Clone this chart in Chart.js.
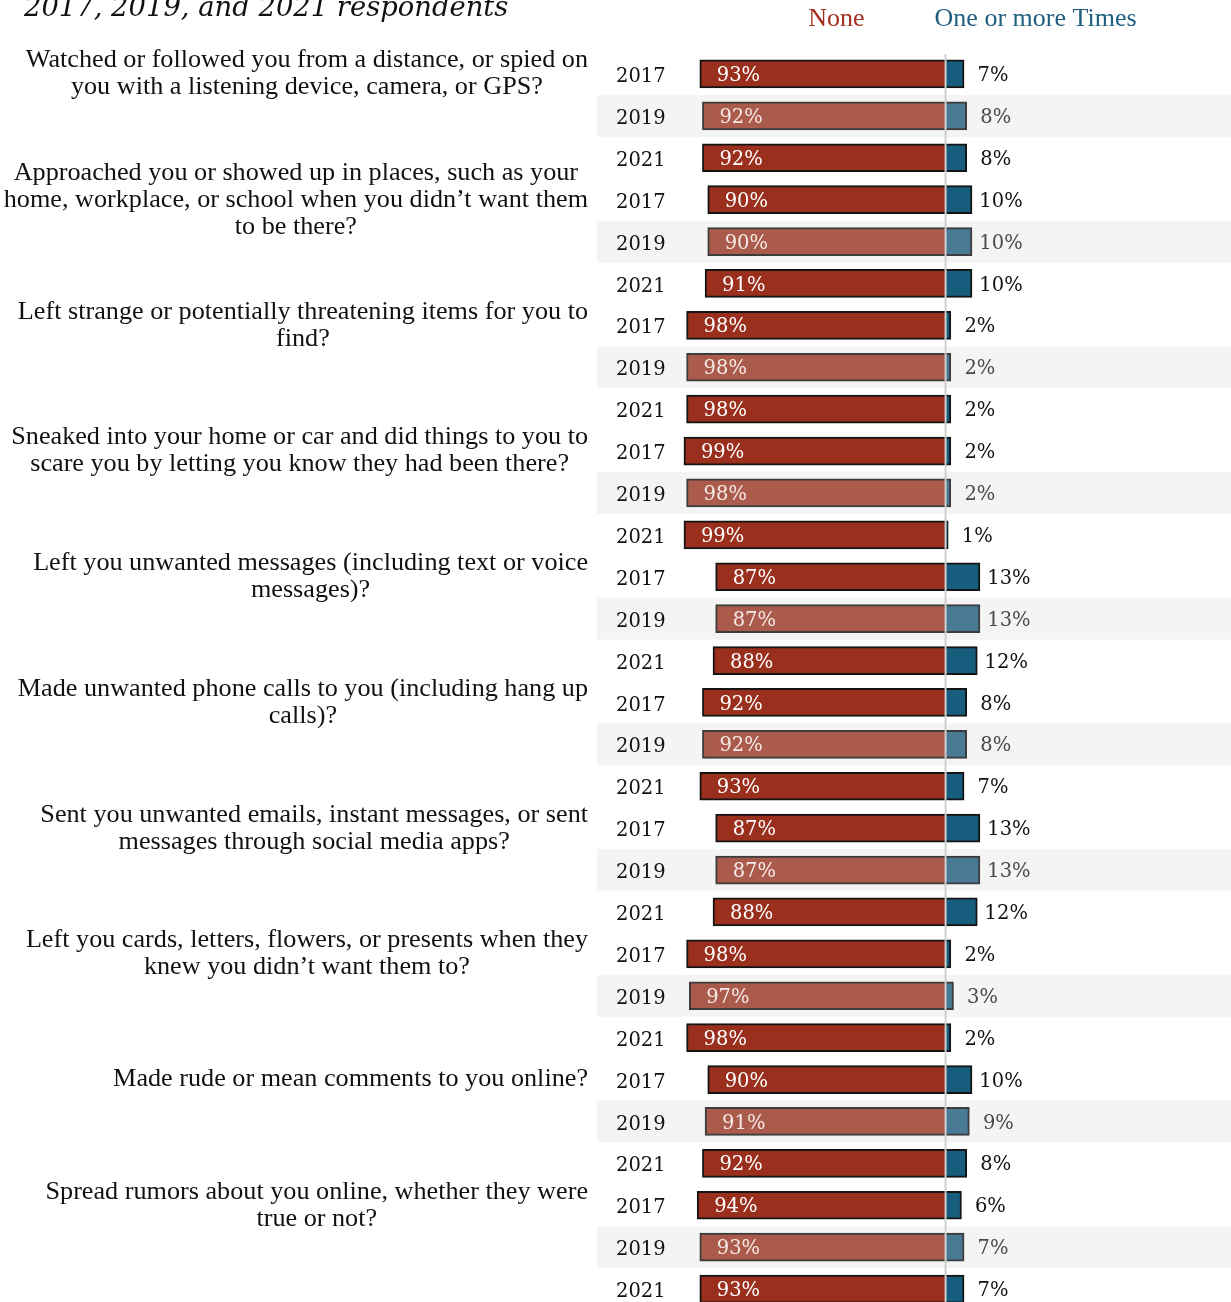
<!DOCTYPE html>
<html>
<head>
<meta charset="utf-8">
<script src="https://cdn.jsdelivr.net/npm/chart.js@4.4.1/dist/chart.umd.min.js"></script>
<style>
  html, body { margin: 0; padding: 0; background: #fff; overflow: hidden; }
  canvas { display: block; }
</style>
</head>
<body>
<canvas id="c" width="1231" height="1330"></canvas>
<script>
// Survey items, one block of three survey years per item
const questions = [
  ["Watched or followed you from a distance, or spied on", "you with a listening device, camera, or GPS?"],
  ["Approached you or showed up in places, such as your", "home, workplace, or school when you didn\u2019t want them", "to be there?"],
  ["Left strange or potentially threatening items for you to", "find?"],
  ["Sneaked into your home or car and did things to you to", "scare you by letting you know they had been there?"],
  ["Left you unwanted messages (including text or voice", "messages)?"],
  ["Made unwanted phone calls to you (including hang up", "calls)?"],
  ["Sent you unwanted emails, instant messages, or sent", "messages through social media apps?"],
  ["Left you cards, letters, flowers, or presents when they", "knew you didn\u2019t want them to?"],
  ["Made rude or mean comments to you online?"],
  ["Spread rumors about you online, whether they were", "true or not?"]
];

const years = [
  "2017","2019","2021", "2017","2019","2021", "2017","2019","2021", "2017","2019","2021", "2017","2019","2021",
  "2017","2019","2021", "2017","2019","2021", "2017","2019","2021", "2017","2019","2021", "2017","2019","2021"
];

// Percent answering "None"
const noneValues = [
  93, 92, 92,
  90, 90, 91,
  98, 98, 98,
  99, 98, 99,
  87, 87, 88,
  92, 92, 93,
  87, 87, 88,
  98, 97, 98,
  90, 91, 92,
  94, 93, 93
];

// Percent answering "One or more Times"
const onceValues = [
  7, 8, 8,
  10, 10, 10,
  2, 2, 2,
  2, 2, 1,
  13, 13, 12,
  8, 8, 7,
  13, 13, 12,
  2, 3, 2,
  10, 9, 8,
  6, 7, 7
];

const seriesNames = ["None", "One or more Times"];
const subtitle = "2017, 2019, and 2021 respondents";

const isMid = yr => yr === "2019";

const NUM_FONT = '19.5px "DejaVu Serif"';
const TEXT_FONT = '26.2px "Liberation Serif"';

const decorations = {
  id: 'decorations',
  beforeDraw(chart) {
    const { ctx, chartArea, scales: { x, y } } = chart;
    const half = (y.getPixelForValue(1) - y.getPixelForValue(0)) / 2;
    ctx.save();

    // shaded bands behind the middle survey year
    ctx.fillStyle = '#f4f4f4';
    const bandLeft = y.left - 19;
    years.forEach((yr, i) => {
      if (!isMid(yr)) return;
      const cy = y.getPixelForValue(i);
      ctx.fillRect(bandLeft, cy - half, chartArea.right - bandLeft, half * 2);
    });

    // subtitle
    ctx.fillStyle = '#111';
    ctx.font = 'italic 27.4px "DejaVu Serif"';
    ctx.textAlign = 'left';
    ctx.textBaseline = 'alphabetic';
    ctx.fillText(subtitle, 24, 16);

    // series legend
    const zx = x.getPixelForValue(0);
    ctx.font = '26px "Liberation Serif"';
    ctx.textBaseline = 'middle';
    ctx.fillStyle = '#a3301f';
    ctx.textAlign = 'right';
    ctx.fillText(seriesNames[0], zx - 81, 19);
    ctx.fillStyle = '#1d5e7f';
    ctx.textAlign = 'left';
    ctx.fillText(seriesNames[1], zx - 11, 19);

    // question text, centred on each block's first row
    ctx.fillStyle = '#111';
    ctx.font = TEXT_FONT;
    ctx.textAlign = 'center';
    const right = y.left - 28;
    const lh = 27;
    questions.forEach((lines, g) => {
      const cy = y.getPixelForValue(g * 3);
      const w = Math.max(...lines.map(l => ctx.measureText(l).width));
      const cx = right - w / 2;
      lines.forEach((l, k) => ctx.fillText(l, cx, cy + (k - (lines.length - 1) / 2) * lh));
    });
    ctx.restore();
  },
  afterDatasetsDraw(chart) {
    const { ctx, chartArea, scales: { x } } = chart;
    const zx = x.getPixelForValue(0);
    ctx.save();

    // zero line over the bars
    ctx.strokeStyle = '#cfcfcf';
    ctx.lineWidth = 2;
    ctx.beginPath();
    ctx.moveTo(zx, chartArea.top + 1);
    ctx.lineTo(zx, chartArea.bottom);
    ctx.stroke();

    // value labels: inside the left end of "None", centred just past "One or more Times"
    ctx.font = NUM_FONT;
    ctx.textBaseline = 'middle';
    ctx.textAlign = 'left';
    chart.getDatasetMeta(0).data.forEach((bar, i) => {
      ctx.fillStyle = isMid(years[i]) ? '#f5e9e6' : '#ffffff';
      ctx.fillText(noneValues[i] + '%', bar.x + 17, bar.y + 2);
    });
    ctx.textAlign = 'center';
    chart.getDatasetMeta(1).data.forEach((bar, i) => {
      ctx.fillStyle = isMid(years[i]) ? '#4a4a4a' : '#111111';
      ctx.fillText(onceValues[i] + '%', bar.x + 29, bar.y + 2);
    });
    ctx.restore();
  }
};

new Chart(document.getElementById('c'), {
  type: 'bar',
  data: {
    labels: years,
    datasets: [
      {
        label: seriesNames[0],
        data: noneValues.map(v => -v),
        backgroundColor: years.map(yr => isMid(yr) ? '#ab5b4b' : '#9b2f1d'),
        borderColor: years.map(yr => isMid(yr) ? '#3c3c3c' : '#141414'),
        borderWidth: 2,
        borderSkipped: 'start',
        barThickness: 28
      },
      {
        label: seriesNames[1],
        data: onceValues,
        backgroundColor: years.map(yr => isMid(yr) ? '#487a93' : '#175e7e'),
        borderColor: years.map(yr => isMid(yr) ? '#3c3c3c' : '#141414'),
        borderWidth: 2,
        borderSkipped: 'start',
        barThickness: 28
      }
    ]
  },
  options: {
    indexAxis: 'y',
    responsive: false,
    animation: false,
    layout: { padding: { left: 616, top: 53, right: 0, bottom: 20 } },
    plugins: { legend: { display: false }, tooltip: { enabled: false } },
    scales: {
      x: { display: false, stacked: true, min: -102, max: 108 },
      y: {
        stacked: true,
        grid: { display: false },
        border: { display: false },
        ticks: {
          autoSkip: false,
          crossAlign: 'far',
          padding: 0,
          labelOffset: 3,
          color: '#111',
          font: { family: 'DejaVu Serif', size: 19.5 }
        },
        afterFit(scale) { scale.width = 60; }
      }
    }
  },
  plugins: [decorations]
});
</script>
</body>
</html>
